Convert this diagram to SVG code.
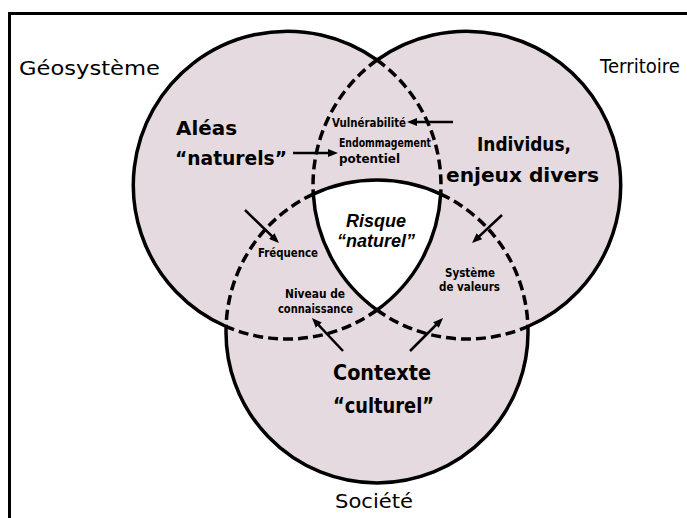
<svg xmlns="http://www.w3.org/2000/svg" width="687" height="518" viewBox="0 0 687 518">
<style>
.fill{fill:#e4dadf;stroke:none}
.solid{fill:none;stroke:#000;stroke-width:3.5}
.dash{fill:none;stroke:#000;stroke-width:3.5;stroke-dasharray:10 5}
.thin{font-family:"DejaVu Sans",sans-serif;font-size:20px;fill:#000}
.big{font-family:"DejaVu Sans",sans-serif;font-weight:bold;font-size:20px;fill:#000}
.small{font-family:"DejaVu Sans",sans-serif;font-weight:bold;font-size:11.5px;fill:#000}
.risk{font-family:"Liberation Sans",Arial,sans-serif;font-weight:bold;font-style:italic;font-size:18px;fill:#000;text-anchor:middle}
.arrow{fill:none;stroke:#000;stroke-width:2.5}
</style>
<defs>
<marker id="ah" markerUnits="userSpaceOnUse" markerWidth="10" markerHeight="8" refX="5" refY="4" orient="auto">
<path d="M0,0 L10,4 L0,8 z" fill="#000"/>
</marker>
</defs>
<rect x="9.5" y="13.5" width="700" height="520" fill="#fff" stroke="#000" stroke-width="3"/>
<g id="regions">
<circle class="fill" cx="287" cy="185" r="154"/>
<circle class="fill" cx="467" cy="185" r="154"/>
<circle class="fill" cx="377" cy="331" r="151"/>
<path d="M313.3,194.1 A151,151 0 0 1 440.7,194.1 A154,154 0 0 1 377,310 A154,154 0 0 1 313.3,194.1 Z" fill="#fff"/>
</g>
<g id="outlines">
<path class="dash" d="M377,60 A154,154 0 0 1 440.7,194.1 M377,310 A154,154 0 0 1 226.1,326.5"/>
<path class="dash" d="M377,60 A154,154 0 0 0 313.3,194.1 M377,310 A154,154 0 0 0 527.9,326.5"/>
<path class="dash" d="M313.3,194.1 A151,151 0 0 0 226.1,326.5 M440.7,194.1 A151,151 0 0 1 527.9,326.5"/>
<path class="solid" d="M377,60 A154,154 0 1 0 226.1,326.5 A151,151 0 1 0 527.9,326.5 A154,154 0 1 0 377,60 Z"/>
<path class="solid" d="M313.3,194.1 A151,151 0 0 1 440.7,194.1 A154,154 0 0 1 377,310 A154,154 0 0 1 313.3,194.1 Z"/>
</g>
<g id="node-geosysteme">
<text class="thin" x="19" y="75" textLength="141" lengthAdjust="spacingAndGlyphs">Géosystème</text>
<text class="big" x="176" y="135" textLength="61" lengthAdjust="spacingAndGlyphs">Aléas</text>
<text class="big" x="175" y="165" textLength="112" lengthAdjust="spacingAndGlyphs">“naturels”</text>
</g>
<g id="node-territoire">
<text class="thin" x="600" y="73" textLength="80" lengthAdjust="spacingAndGlyphs">Territoire</text>
<text class="big" x="477" y="151" textLength="94" lengthAdjust="spacingAndGlyphs">Individus,</text>
<text class="big" x="446" y="182" textLength="153" lengthAdjust="spacingAndGlyphs">enjeux divers</text>
</g>
<g id="node-societe">
<text class="thin" x="335" y="508" textLength="78" lengthAdjust="spacingAndGlyphs">Société</text>
<text class="big" x="333" y="380" textLength="98" lengthAdjust="spacingAndGlyphs" style="font-size:22px">Contexte</text>
<text class="big" x="333" y="413" textLength="101" lengthAdjust="spacingAndGlyphs" style="font-size:22px">“culturel”</text>
</g>
<g id="node-risque">
<text class="risk" x="376" y="227">Risque</text>
<text class="risk" x="376" y="247">“naturel”</text>
</g>
<g id="node-vulnerabilite">
<text class="small" x="332" y="126.5" textLength="74" lengthAdjust="spacingAndGlyphs">Vulnérabilité</text>
</g>
<g id="node-endommagement">
<text class="small" x="339" y="146.5" textLength="92" lengthAdjust="spacingAndGlyphs">Endommagement</text>
<text class="small" x="339" y="163" textLength="61" lengthAdjust="spacingAndGlyphs">potentiel</text>
</g>
<g id="node-frequence">
<text class="small" x="258" y="257" textLength="60" lengthAdjust="spacingAndGlyphs">Fréquence</text>
</g>
<g id="node-systeme">
<text class="small" x="445" y="277" textLength="50" lengthAdjust="spacingAndGlyphs">Système</text>
<text class="small" x="439" y="291" textLength="61" lengthAdjust="spacingAndGlyphs">de valeurs</text>
</g>
<g id="node-niveau">
<text class="small" x="285" y="298" textLength="60" lengthAdjust="spacingAndGlyphs">Niveau de</text>
<text class="small" x="278" y="313" textLength="75" lengthAdjust="spacingAndGlyphs">connaissance</text>
</g>
<g id="connectors">
<path class="arrow" marker-end="url(#ah)" d="M293,153 L333,153"/>
<path class="arrow" marker-end="url(#ah)" d="M453,122 L412,122"/>
<path class="arrow" marker-end="url(#ah)" d="M245,210 L275.4,239.5"/>
<path class="arrow" marker-end="url(#ah)" d="M502,215 L475.7,239.6"/>
<path class="arrow" marker-end="url(#ah)" d="M343,351 L315.4,321.6"/>
<path class="arrow" marker-end="url(#ah)" d="M410,351 L439.5,321.5"/>
</g>
</svg>
